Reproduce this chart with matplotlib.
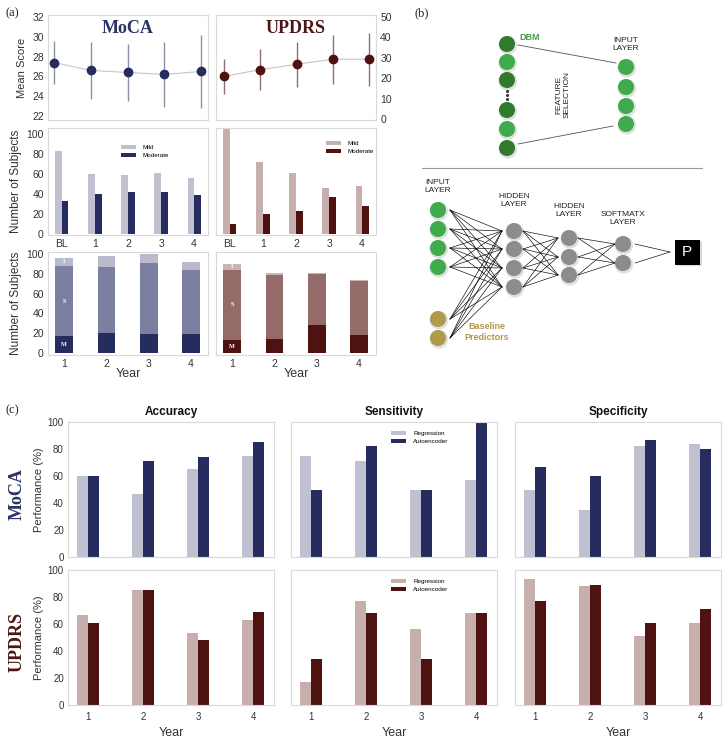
import numpy as np
import matplotlib
matplotlib.use('Agg')
import matplotlib.pyplot as plt
from matplotlib.patches import Circle, Rectangle

plt.rcParams['font.family'] = ['Liberation Sans', 'DejaVu Sans']

W, H = 728, 741

# ---------------- data: panel (a) ----------------
visits = ['BL', '1', '2', '3', '4']
moca_mean = [27.4, 26.6, 26.4, 26.2, 26.5]
moca_sd = [2.2, 2.9, 2.85, 3.25, 3.7]
updrs_mean = [20.8, 24.1, 26.7, 29.2, 29.2]
updrs_sd = [8.6, 9.9, 10.9, 11.9, 12.9]

moca_mild = [83, 60, 59, 61, 56]
moca_moderate = [33, 40, 42, 42, 39]
updrs_mild = [105, 72, 61, 46, 48]
updrs_moderate = [10, 20, 23, 37, 28]

years = [1, 2, 3, 4]
moca_M = [17, 20, 19, 19]
moca_S = [71, 67, 72, 65]
moca_I = [8, 11, 9, 8]
updrs_M = [13, 14, 28, 18]
updrs_S = [71, 65, 52, 55]
updrs_I = [6, 2, 1, 0.5]

# ---------------- data: panel (c) ----------------
metrics = ['Accuracy', 'Sensitivity', 'Specificity']
moca_acc_reg = [60, 47, 65, 75]
moca_acc_ae = [60, 71, 74, 85]
moca_sen_reg = [75, 71, 50, 57]
moca_sen_ae = [50, 82, 50, 100]
moca_spe_reg = [50, 35, 82, 84]
moca_spe_ae = [67, 60, 87, 80]
updrs_acc_reg = [67, 85, 53, 63]
updrs_acc_ae = [61, 85, 48, 69]
updrs_sen_reg = [17, 77, 56, 68]
updrs_sen_ae = [34, 68, 34, 68]
updrs_spe_reg = [93, 88, 51, 61]
updrs_spe_ae = [77, 89, 61, 71]

NAVY = '#262d5e'
NAVY_LIGHT = '#c0c1d0'
NAVY_MID = '#7b7fa1'
NAVY_TOP = '#b9bbcc'
MAROON = '#4e1311'
MAROON_LIGHT = '#c6afad'
MAROON_MID = '#956b69'
MAROON_TOP = '#cbb3b1'
TXT = '#333333'


def add_px(x0, y0, x1, y1):
    return fig.add_axes([x0 / W, 1 - y1 / H, (x1 - x0) / W, (y1 - y0) / H])


def style(ax, size=7.5):
    for s in ax.spines.values():
        s.set_color('#dadada')
        s.set_linewidth(0.8)
    ax.tick_params(length=0, labelsize=size, colors=TXT, pad=3)


fig = plt.figure(figsize=(W / 100, H / 100), dpi=100)

# ================= panel (a) =================
x = np.arange(len(visits))

# mean scores
ax = add_px(48, 15, 208, 120)
style(ax)
ax.plot(x, moca_mean, color='#c6c7cd', lw=0.8, zorder=1)
ax.errorbar(x, moca_mean, yerr=moca_sd, fmt='none', ecolor='#8d8fa3', elinewidth=1, zorder=2)
ax.plot(x, moca_mean, 'o', color=NAVY, ms=6, zorder=3)
ax.set_xlim(-0.17, 4.19)
ax.set_ylim(21.6, 32.2)
ax.set_yticks([22, 24, 26, 28, 30, 32])
ax.set_xticks([])
ax.set_ylabel('Mean Score', fontsize=8, color=TXT, labelpad=4)
ax.text(0.5, 0.87, 'MoCA', transform=ax.transAxes, ha='center', va='center', fontsize=13,
        family='Liberation Serif', weight='bold', color='#2b3366')

ax = add_px(216, 15, 376, 120)
style(ax)
ax.plot(x, updrs_mean, color='#c9c4c4', lw=0.8, zorder=1)
ax.errorbar(x, updrs_mean, yerr=updrs_sd, fmt='none', ecolor='#8f7070', elinewidth=1, zorder=2)
ax.plot(x, updrs_mean, 'o', color=MAROON, ms=6, zorder=3)
ax.set_xlim(-0.22, 4.19)
ax.set_ylim(-0.5, 50.8)
ax.yaxis.tick_right()
ax.set_yticks([0, 10, 20, 30, 40, 50])
ax.set_xticks([])
ax.text(0.5, 0.87, 'UPDRS', transform=ax.transAxes, ha='center', va='center', fontsize=13,
        family='Liberation Serif', weight='bold', color='#4b1716')

# number of subjects mild / moderate
leg_kw = dict(frameon=False, fontsize=4.5, handlelength=2.4, handleheight=0.5,
              labelspacing=0.45, handletextpad=1.1, borderaxespad=0)
for (x0, x1), mild, mod, c_light, c_dark, anchor, show_y in [
        ((48, 208), moca_mild, moca_moderate, NAVY_LIGHT, NAVY, (0.44, 0.86), True),
        ((216, 376), updrs_mild, updrs_moderate, MAROON_LIGHT, MAROON, (0.67, 0.9), False)]:
    ax = add_px(x0, 128, x1, 235)
    style(ax)
    ax.bar(x - 0.1, mild, width=0.2, color=c_light, label='Mild')
    ax.bar(x + 0.1, mod, width=0.2, color=c_dark, label='Moderate')
    ax.set_xlim(-0.42, 4.42)
    ax.set_ylim(-0.5, 106)
    ax.set_xticks(x)
    ax.set_xticklabels(visits)
    ax.set_yticks([0, 20, 40, 60, 80, 100])
    if show_y:
        ax.set_ylabel('Number of Subjects', fontsize=8.5, color=TXT, labelpad=3)
    else:
        ax.set_yticklabels([])
    ax.legend(loc='upper left', bbox_to_anchor=anchor, **leg_kw)

# stacked M / S / I
for (x0, x1), M, S, I, cols, show_y in [
        ((48, 208), moca_M, moca_S, moca_I, (NAVY, NAVY_MID, NAVY_TOP), True),
        ((216, 376), updrs_M, updrs_S, updrs_I, (MAROON, MAROON_MID, MAROON_TOP), False)]:
    ax = add_px(x0, 252, x1, 355)
    style(ax)
    M = np.array(M, float)
    S = np.array(S, float)
    I = np.array(I, float)
    ax.bar(years, M, width=0.42, color=cols[0])
    ax.bar(years, S, width=0.42, bottom=M, color=cols[1])
    ax.bar(years, I, width=0.42, bottom=M + S, color=cols[2])
    for val, base, lab in [(M[0], 0, 'M'), (S[0], M[0], 'S'), (I[0], M[0] + S[0], 'I')]:
        ax.text(years[0], base + val / 2, lab, ha='center', va='center', fontsize=4.5,
                color='white', family='Liberation Serif', weight='bold')
    ax.set_xlim(0.62, 4.4)
    ax.set_ylim(-2, 102)
    ax.set_xticks(years)
    ax.set_yticks([0, 20, 40, 60, 80, 100])
    ax.set_xlabel('Year', fontsize=9, color=TXT, labelpad=-1)
    if show_y:
        ax.set_ylabel('Number of Subjects', fontsize=8.5, color=TXT, labelpad=3)
    else:
        ax.set_yticklabels([])

# ================= panel (b): network diagram =================
axb = add_px(390, 0, 728, 400)
axb.set_xlim(390, 728)
axb.set_ylim(400, 0)
axb.axis('off')

R = 8
GREEN_D = '#2f7a2c'
GREEN_L = '#3fab4c'
GREY = '#8c8c8c'
GOLD = '#b09a4c'


def node(xc, yc, color):
    axb.add_patch(Circle((xc + 0.8, yc + 1.3), R + 1.3, color='black', alpha=0.12, lw=0))
    axb.add_patch(Circle((xc, yc), R, color=color, lw=0, zorder=3))


def label(xc, yc, s, **kw):
    axb.text(xc, yc, s, ha='center', va='center', fontsize=6, color='#222222',
             linespacing=1.2, **kw)


# feature selection (top)
dbm_y = [44, 62, 80, 110, 129, 148]
dbm_c = [GREEN_D, GREEN_L, GREEN_D, GREEN_D, GREEN_L, GREEN_D]
for yy, cc in zip(dbm_y, dbm_c):
    node(507, yy, cc)
axb.plot([507, 507, 507], [91, 95, 99], 'o', color='#333333', ms=1.2)
axb.text(519, 37, 'DBM', fontsize=6.5, color='#3fa04a', weight='bold', va='center')
sel_y = [67, 87, 106, 124]
for yy in sel_y:
    node(626, yy, GREEN_L)
label(626, 45, 'INPUT\nLAYER')
axb.plot([518, 616], [45, 63], color='#555555', lw=0.6)
axb.plot([518, 613], [144, 126], color='#555555', lw=0.6)
label(563, 95, 'FEATURE\nSELECTION', rotation=90)
axb.plot([422, 702], [168, 168], color='#9a9a9a', lw=0.8)

# classifier (bottom)
inp = [(438, y) for y in [210, 229, 248, 267]]
base = [(438, y) for y in [319, 338]]
h1 = [(514, y) for y in [231, 249, 268, 287]]
h2 = [(569, y) for y in [238, 257, 275]]
sm = [(623, y) for y in [244, 263]]
P = (687, 252)

for (ax0, ay0) in inp + base:
    for (bx, by) in h1:
        axb.plot([ax0 + 12, bx - 12], [ay0, by], color='black', lw=0.45)
for (ax0, ay0) in h1:
    for (bx, by) in h2:
        axb.plot([ax0 + 9, bx - 11], [ay0, by], color='black', lw=0.45)
for (ax0, ay0) in h2:
    for (bx, by) in sm:
        axb.plot([ax0 + 9, bx - 8], [ay0, by], color='black', lw=0.45)
for (ax0, ay0) in sm:
    axb.plot([ax0 + 12, P[0] - 17], [ay0, P[1]], color='black', lw=0.45)

for p in inp:
    node(*p, GREEN_L)
for p in base:
    node(*p, GOLD)
for p in h1 + h2 + sm:
    node(*p, GREY)

label(438, 187, 'INPUT\nLAYER')
label(514, 200, 'HIDDEN\nLAYER')
label(569, 211, 'HIDDEN\nLAYER')
label(623, 219, 'SOFTMATX\nLAYER')
axb.text(487, 332, 'Baseline\nPredictors', ha='center', va='center', fontsize=6.5,
         color=GOLD, weight='bold', linespacing=1.25)
axb.add_patch(Rectangle((P[0] - 11.5 + 1, P[1] - 12.5 + 1.5), 25, 25, color='black', alpha=0.15, lw=0))
axb.add_patch(Rectangle((P[0] - 12.5, P[1] - 12.5), 25, 25, color='black', lw=0, zorder=3))
axb.text(P[0], P[1], 'P', ha='center', va='center', fontsize=11, color='white', zorder=4)

# ================= panel (c) =================
rows = [
    ('MoCA', (422, 557), NAVY_LIGHT, NAVY, '#2b3366',
     [(moca_acc_reg, moca_acc_ae), (moca_sen_reg, moca_sen_ae), (moca_spe_reg, moca_spe_ae)]),
    ('UPDRS', (570, 705), MAROON_LIGHT, MAROON, '#4b1716',
     [(updrs_acc_reg, updrs_acc_ae), (updrs_sen_reg, updrs_sen_ae), (updrs_spe_reg, updrs_spe_ae)]),
]
cols_px = [(68, 274), (291, 497), (515, 721)]
yr = np.array(years)

for r, (name, (y0, y1), c_light, c_dark, c_txt, series) in enumerate(rows):
    for c, ((x0, x1), (reg, ae)) in enumerate(zip(cols_px, series)):
        ax = add_px(x0, y0, x1, y1)
        style(ax, size=7)
        ax.bar(yr - 0.1, reg, width=0.2, color=c_light, label='Regression')
        ax.bar(yr + 0.1, ae, width=0.2, color=c_dark, label='Autoencoder')
        ax.set_xlim(0.64, 4.38)
        ax.set_ylim(0, 100)
        ax.set_yticks([0, 20, 40, 60, 80, 100])
        ax.set_xticks(yr)
        if c == 0:
            ax.set_ylabel('Performance (%)', fontsize=8, color=TXT, labelpad=3)
        else:
            ax.set_yticklabels([])
        if r == 0:
            ax.set_xticklabels([])
            ax.set_title(metrics[c], fontsize=8.5, weight='bold', color='#111111', pad=5)
        else:
            ax.tick_params(axis='x', pad=5)
            ax.set_xlabel('Year', fontsize=9, color=TXT, labelpad=4)
        if c == 1:
            ax.legend(loc='upper left', bbox_to_anchor=(0.475, 0.95), **leg_kw)
    fig.text(17 / W, 1 - ((y0 + y1) / 2 + 5) / H, name, rotation=90, ha='center', va='center',
             fontsize=13, family='Liberation Serif', weight='bold', color=c_txt)

# panel letters
for px, py, s in [(12, 13, '(a)'), (422, 13, '(b)'), (12, 410, '(c)')]:
    fig.text(px / W, 1 - py / H, s, ha='center', va='center', fontsize=9,
             family='Liberation Serif', color='#222222')

fig.savefig('out.png', dpi=100)
